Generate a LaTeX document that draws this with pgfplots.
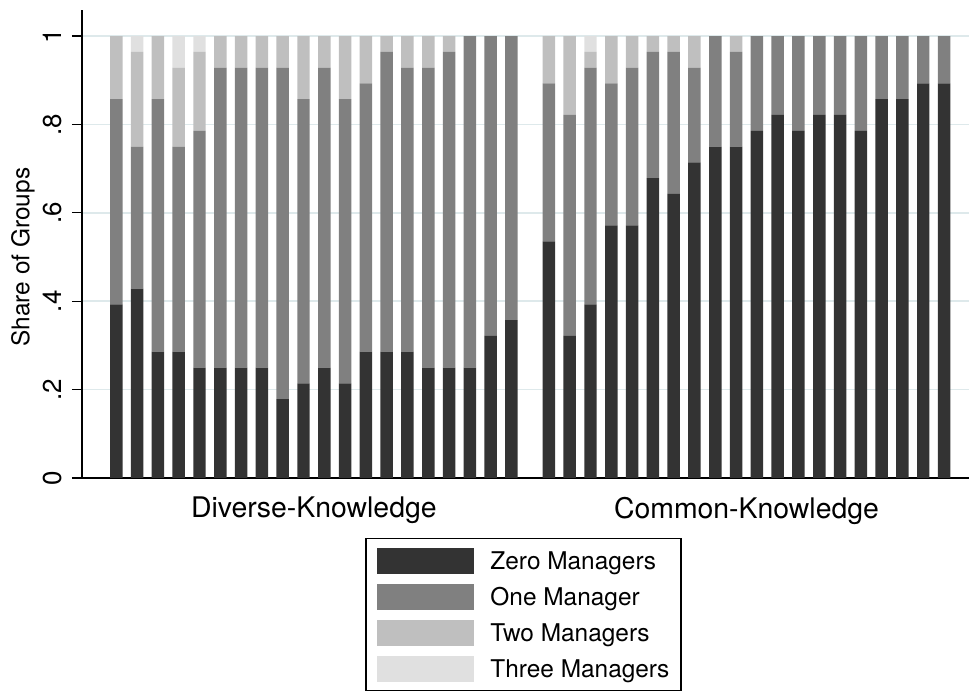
\documentclass[border=0pt]{standalone}
\usepackage{pgfplots}
\pgfplotsset{compat=1.18}
\usepackage{pgfplotstable}
\usepackage{fontspec}
\setmainfont{TeX Gyre Heros}
\definecolor{c0}{RGB}{51,51,51}
\definecolor{c1}{RGB}{128,128,128}
\definecolor{c2}{RGB}{191,191,191}
\definecolor{c3}{RGB}{224,224,224}
\definecolor{gridc}{RGB}{222,233,235}

\pgfplotstableread{
x zero one two three
1 0.3929 0.4643 0.1429 0
2 0.4286 0.3214 0.2143 0.0357
3 0.2857 0.5714 0.1429 0
4 0.2857 0.4643 0.1786 0.0714
5 0.25 0.5357 0.1786 0.0357
6 0.25 0.6786 0.0714 0
7 0.25 0.6786 0.0714 0
8 0.25 0.6786 0.0714 0
9 0.1786 0.75 0.0714 0
10 0.2143 0.6429 0.1429 0
11 0.25 0.6786 0.0714 0
12 0.2143 0.6429 0.1429 0
13 0.2857 0.6071 0.1071 0
14 0.2857 0.6786 0.0357 0
15 0.2857 0.6429 0.0714 0
16 0.25 0.6786 0.0714 0
17 0.25 0.7143 0.0357 0
18 0.25 0.75 0 0
19 0.3214 0.6786 0 0
20 0.3571 0.6429 0 0
21.8 0.5357 0.3571 0.1071 0
22.8 0.3214 0.5 0.1786 0
23.8 0.3929 0.5357 0.0357 0.0357
24.8 0.5714 0.3214 0.1071 0
25.8 0.5714 0.3571 0.0714 0
26.8 0.6786 0.2857 0.0357 0
27.8 0.6429 0.3214 0.0357 0
28.8 0.7143 0.2143 0.0714 0
29.8 0.75 0.25 0 0
30.8 0.75 0.2143 0.0357 0
31.8 0.7857 0.2143 0 0
32.8 0.8214 0.1786 0 0
33.8 0.7857 0.2143 0 0
34.8 0.8214 0.1786 0 0
35.8 0.8214 0.1786 0 0
36.8 0.7857 0.2143 0 0
37.8 0.8571 0.1429 0 0
38.8 0.8571 0.1429 0 0
39.8 0.8929 0.1071 0 0
40.8 0.8929 0.1071 0 0
}\bars

\pgfplotsset{mylegend/.style={legend image code/.code={\fill[##1] (0bp,-13bp) rectangle (97bp,13bp);}}}

\begin{document}
\begin{tikzpicture}
\useasboundingbox (0,0) rectangle (969bp,691bp);
\begin{axis}[
  at={(82bp,213bp)}, anchor=south west,
  scale only axis, width=887bp, height=468bp,
  xmin=-0.65, xmax=42.0, ymin=0, ymax=1.059,
  ybar stacked, bar width=0.6,
  axis x line*=bottom, axis y line*=left,
  axis line style={line width=1.3bp, black},
  ytick={0,0.2,0.4,0.6,0.8,1}, yticklabels={0,.2,.4,.6,.8,1},
  tick align=outside, major tick length=10bp,
  ytick style={line width=1.2bp, black},
  xtick={10.5,31.3}, xticklabels={Diverse-Knowledge,Common-Knowledge},
  xtick style={draw=none},
  ymajorgrids, grid style={gridc, line width=1.5bp},
  /pgf/number format/assume math mode=true,
  yticklabel shift=10bp, xticklabel shift=9bp,
  yticklabel style={rotate=90, anchor=south, inner sep=0pt, font=\fontsize{26}{30}\selectfont},
  xticklabel style={anchor=north, inner sep=0pt, font=\fontsize{28.5}{33}\selectfont},
  ylabel={Share of Groups},
  every axis y label/.style={at={(axis description cs:-0.0665,0.472)}, rotate=90, anchor=center, font=\fontsize{24.5}{29}\selectfont},
  every axis plot post/.append style={mylegend},
  legend cell align=left,
  legend style={at={(0.4977,-0.1282)}, anchor=north, draw=black, line width=1.2bp, fill=white,
    inner xsep=11.5bp, inner ysep=9bp, row sep=10bp, column sep=16bp,
    font=\fontsize{24.5}{29}\selectfont,
    nodes={inner sep=0pt, text height=17.6bp, text depth=0bp}},
]
\addplot[fill=c0, draw=none] table[x=x, y=zero] {\bars};
\addplot[fill=c1, draw=none] table[x=x, y=one] {\bars};
\addplot[fill=c2, draw=none] table[x=x, y=two] {\bars};
\addplot[fill=c3, draw=none] table[x=x, y=three] {\bars};
\legend{Zero Managers, One Manager, Two Managers, Three Managers}
\end{axis}
\end{tikzpicture}
\end{document}
